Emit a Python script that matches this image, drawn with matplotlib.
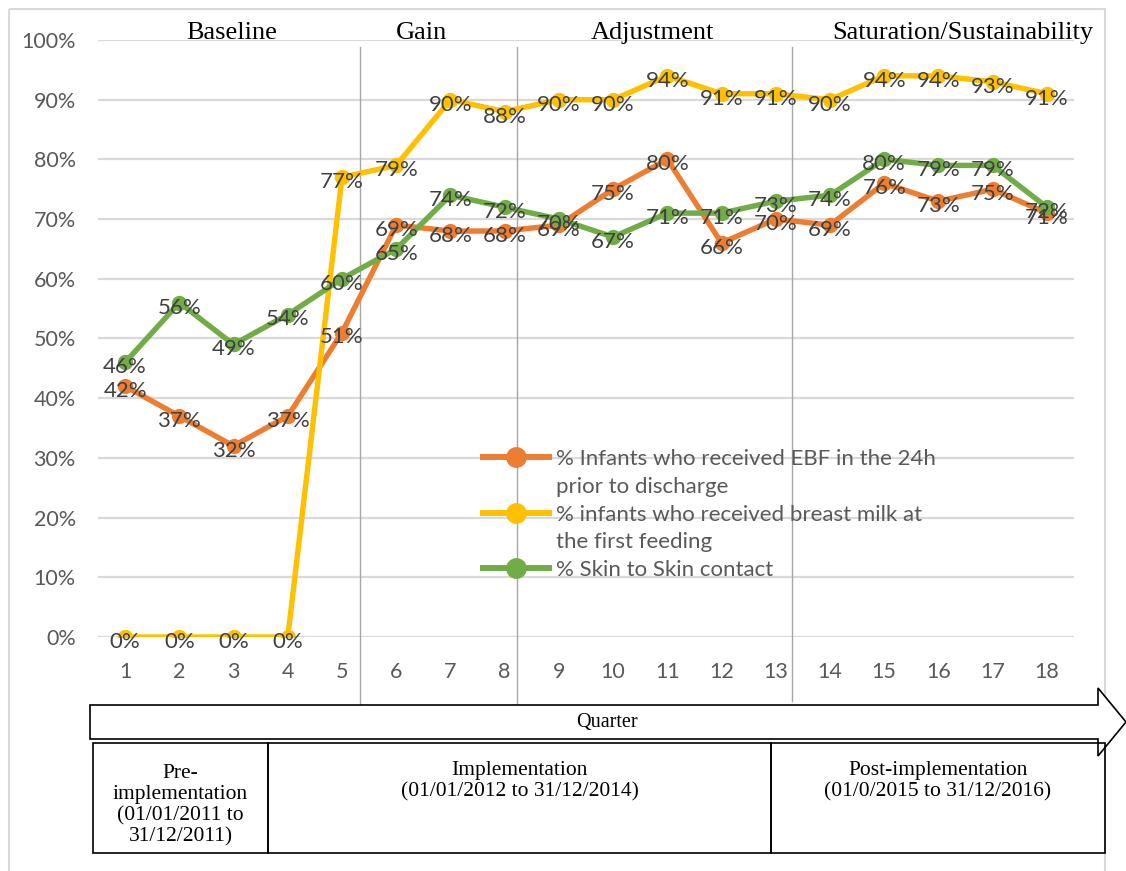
import matplotlib.pyplot as plt
import matplotlib.transforms as mtransforms
from matplotlib.lines import Line2D
from matplotlib.patches import Polygon, Rectangle

quarters = list(range(1, 19))
ebf = [42, 37, 32, 37, 51, 69, 68, 68, 69, 75, 80, 66, 70, 69, 76, 73, 75, 71]
first_feed = [0, 0, 0, 0, 77, 79, 90, 88, 90, 90, 94, 91, 91, 90, 94, 94, 93, 91]
skin = [46, 56, 49, 54, 60, 65, 74, 72, 70, 67, 71, 71, 73, 74, 80, 79, 79, 72]

series_labels = [['% Infants who received EBF in the 24h', 'prior to discharge'],
                 ['% infants who received breast milk at', 'the first feeding'],
                 ['% Skin to Skin contact']]
colors = ['#ED7D31', '#FFC000', '#70AD47']

phases = ['Baseline', 'Gain', 'Adjustment', 'Saturation/Sustainability']
phase_centers = [2.96, 6.47, 10.72, 16.45]
phase_breaks = [5.33, 8.22, 13.3]

periods = ['Pre-\nimplementation\n(01/01/2011 to\n31/12/2011)',
           'Implementation\n(01/01/2012 to 31/12/2014)',
           'Post-implementation\n(01/0/2015 to 31/12/2016)']

W, H = 1126, 871
fig = plt.figure(figsize=(W / 100, H / 100), dpi=100)
sans = 'Lato'
serif = 'Liberation Serif'

ax = fig.add_axes([98 / W, 1 - 637 / H, (1074 - 98) / W, (637 - 40) / H])
ax.set_xlim(0.5, 18.5)
ax.set_ylim(0, 100)
for s in ax.spines.values():
    s.set_visible(False)
ax.set_yticks(range(0, 101, 10))
ax.set_yticklabels([f'{v}%' for v in range(0, 101, 10)])
ax.set_xticks(quarters)
ax.tick_params(length=0, labelsize=15.5, labelcolor='#595959')
ax.tick_params(axis='x', pad=18)
ax.tick_params(axis='y', pad=16)
for lab in ax.get_xticklabels() + ax.get_yticklabels():
    lab.set_fontfamily(sans)
ax.grid(axis='y', color='#d9d9d9', lw=1.6)
ax.set_axisbelow(True)

handles = []
for vals, c in zip([ebf, first_feed, skin], colors):
    ax.plot(quarters, vals, color=c, lw=3.9, marker='o', ms=10, zorder=3)
    handles.append(Line2D([], [], color=c, lw=4.3, marker='o', ms=14))
for vals in [ebf, first_feed, skin]:
    for q, v in zip(quarters, vals):
        ax.annotate(f'{v}%', (q, v), xytext=(0, -3.5), textcoords='offset points',
                    ha='center', va='center', fontsize=16, color='#404040',
                    family=sans, zorder=5)

# legend, continuation lines get an empty handle
leg_h, leg_l = [], []
for h, lines in zip(handles, series_labels):
    leg_h.append(h)
    leg_l.append(lines[0])
    for extra in lines[1:]:
        leg_h.append(Line2D([], [], lw=0))
        leg_l.append(extra)
leg = ax.legend(leg_h, leg_l, loc='upper left', bbox_to_anchor=(483 / W, 1 - 449 / H),
                bbox_transform=fig.transFigure, frameon=False, borderpad=0,
                borderaxespad=0, handlelength=2.95, handletextpad=0.35,
                labelspacing=0.35, prop={'family': sans, 'size': 16})
for t in leg.get_texts():
    t.set_color('#595959')

trans = mtransforms.blended_transform_factory(ax.transData, ax.transAxes)
for name, xc in zip(phases, phase_centers):
    ax.text(xc, 1.012, name, transform=trans, ha='center', va='center',
            fontsize=19, family=serif, color='black')
sep_bottom = [-0.115, -0.115, -0.107]
for xb, yb in zip(phase_breaks, sep_bottom):
    ax.axvline(xb, ymin=yb, ymax=0.988, color='#a6a6a6', lw=1, clip_on=False, zorder=1)

# overlay in pixel coordinates for frame, arrow and period table
ov = fig.add_axes([0, 0, 1, 1])
ov.set_xlim(0, W)
ov.set_ylim(H, 0)
ov.axis('off')
ov.patch.set_visible(False)
ov.add_patch(Rectangle((9, 9), 1096, 900, fill=False, edgecolor='#d9d9d9', lw=1.5))
ov.add_patch(Polygon([(90, 705), (1098, 705), (1098, 688), (1126, 722), (1098, 756),
                      (1098, 739), (90, 739)], closed=True, facecolor='white',
                     edgecolor='black', lw=1.2, clip_on=False))
ov.text(607, 722, 'Quarter', ha='center', va='center', fontsize=14.5, family=serif)
cells = [(93, 268), (268, 771), (771, 1105)]
for (x0, x1), txt in zip(cells, periods):
    ov.add_patch(Rectangle((x0, 743), x1 - x0, 110, fill=False, edgecolor='black', lw=1.2))
for (x0, x1), txt, yt in zip(cells, periods, [805, 781, 781]):
    ov.text((x0 + x1) / 2, yt, txt, ha='center', va='center', fontsize=15.5,
            family=serif, linespacing=1.15)

fig.savefig('out.png', dpi=100)
